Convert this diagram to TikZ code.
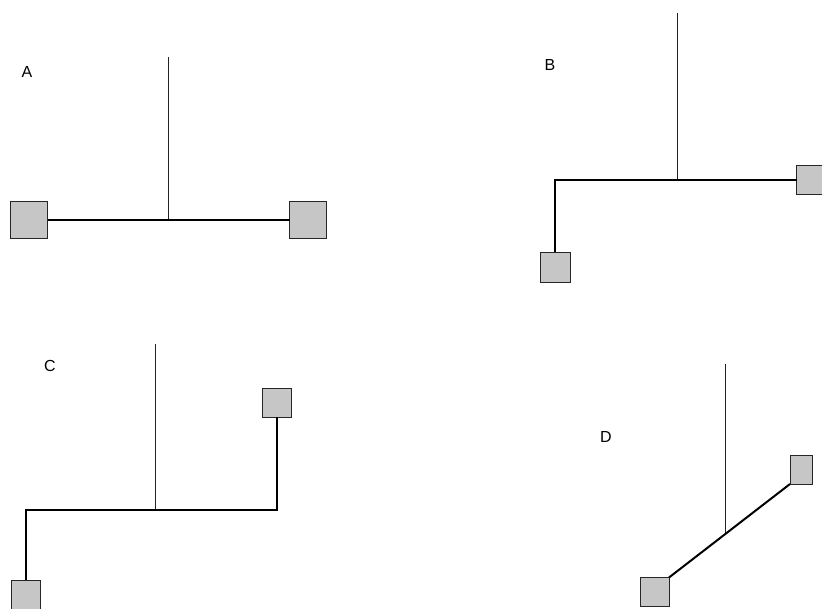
\documentclass[tikz,border=0pt]{standalone}
\usepackage{fontspec}
\setmainfont{Liberation Sans}
\usetikzlibrary{positioning}
\definecolor{padfill}{HTML}{C6C6C6}
\definecolor{padline}{HTML}{262626}
\definecolor{stemcolor}{HTML}{222222}

\begin{document}
\begin{tikzpicture}[
    x=1pt, y=-1pt,
    every node/.style={font=\fontsize{16}{18}\selectfont},
    pad/.style={draw=padline, fill=padfill, line width=1pt,
        inner sep=0pt, outer sep=0pt, minimum size=#1},
    pad/.default=30pt,
    stem/.style={stemcolor, line width=0.8pt},
    arm/.style={black, line width=2pt},
]
\useasboundingbox (0,0) rectangle (822,608);

% ---------------------------------------------------------------- A
\node (a-tag) at (27,72) {A};
\node[pad=37pt] (a-l) at (29,220) {};
\node[pad=37pt] (a-r) at (308,220) {};
\coordinate (a-top) at (168,57);
\coordinate (a-j) at (168,220);
\draw[stem] (a-top) -- (a-j);
\draw[arm] (a-l) -- (a-j) -- (a-r);

% ---------------------------------------------------------------- B
\node (b-tag) at (550,65) {B};
\node[pad] (b-l) at (555,267) {};
\node[pad=29pt] (b-r) at (811,180) {};
\coordinate (b-top) at (677,13);
\coordinate (b-j) at (677,180);
\draw[stem] (b-top) -- (b-j);
\draw[arm] (b-l) |- (b-r);

% ---------------------------------------------------------------- C
\node (c-tag) at (50,366) {C};
\node[pad=29pt] (c-l) at (26,594.5) {};
\node[pad=29pt] (c-r) at (276.5,402.5) {};
\coordinate (c-top) at (155,344);
\coordinate (c-j) at (155,510);
\draw[stem] (c-top) -- (c-j);
\draw[arm] (c-l) |- (c-j) -| (c-r);

% ---------------------------------------------------------------- D
\node (d-tag) at (606,437) {D};
\node[pad=29pt] (d-l) at (654.5,592) {};
\node[pad, minimum width=22pt, minimum height=29pt] (d-r) at (801,469.5) {};
\coordinate (d-top) at (725,364);
\coordinate (d-j) at (725,533.4);
\draw[stem] (d-top) -- (d-j);
\draw[arm] (d-l.north east) -- (d-r.south west);

\end{tikzpicture}
\end{document}
